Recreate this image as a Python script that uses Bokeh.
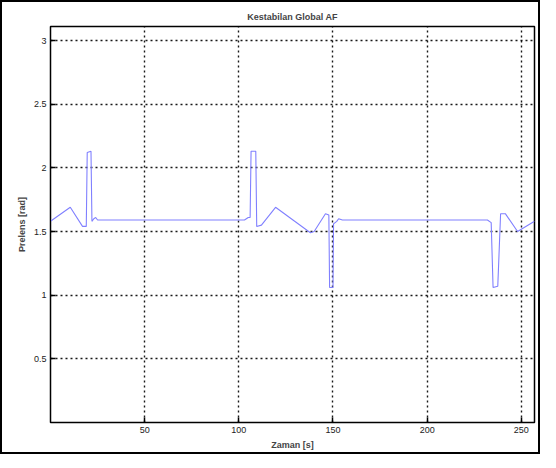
from bokeh.plotting import figure
from bokeh.models import Range1d, FixedTicker
from bokeh.embed import file_html
from bokeh.resources import INLINE

# data
time_s = [0, 10.5, 17, 19, 19.5, 21.5, 22, 23, 24, 25,
          103, 105, 106, 106.5, 109, 109.5, 112, 119.5, 138, 140,
          146, 147.8, 148.2, 150, 150.3, 152, 153, 155,
          232, 234, 235, 237.5, 239, 241.5, 248, 257]
freq_rad = [1.58, 1.69, 1.54, 1.54, 2.12, 2.13, 1.58, 1.60, 1.61, 1.59,
            1.59, 1.61, 1.61, 2.13, 2.13, 1.54, 1.55, 1.69, 1.49, 1.50,
            1.64, 1.63, 1.06, 1.06, 1.56, 1.58, 1.60, 1.59,
            1.59, 1.57, 1.06, 1.07, 1.64, 1.64, 1.50, 1.58]

x_ticks = [50, 100, 150, 200, 250]
x_tick_labels = ["50", "100", "150", "200", "250"]
y_ticks = [0.5, 1, 1.5, 2, 2.5, 3]
y_tick_labels = ["0.5", "1", "1.5", "2", "2.5", "3"]

FONT = "Liberation Sans"

p = figure(width=540, height=454, output_backend="svg", toolbar_location=None,
           x_range=Range1d(0, 257), y_range=Range1d(0, 3.11),
           title="Kestabilan Global AF",
           min_border_left=48, min_border_right=8, min_border_top=24, min_border_bottom=34,
           styles={"border": "2px solid black"})

p.title.align = "center"
p.title.text_font = FONT
p.title.text_font_size = "9px"
p.title.text_font_style = "bold"
p.title.offset = 0

p.line(time_s, freq_rad, line_color="#8080ff", line_width=1.1)

p.outline_line_color = "black"
p.outline_line_width = 1.5

p.xaxis.ticker = FixedTicker(ticks=x_ticks)
p.xaxis.major_label_overrides = dict(zip(x_ticks, x_tick_labels))
p.xaxis.axis_label = "Zaman [s]"
p.yaxis.ticker = FixedTicker(ticks=y_ticks)
p.yaxis.major_label_overrides = dict(zip(y_ticks, y_tick_labels))
p.yaxis.axis_label = "Prelens [rad]"

for ax in p.axis:
    ax.major_tick_in = 5
    ax.major_tick_out = 0
    ax.major_tick_line_width = 1.5
    ax.minor_tick_line_color = None
    ax.axis_line_color = "black"
    ax.major_tick_line_color = "black"
    ax.major_label_text_font = FONT
    ax.major_label_text_font_size = "9px"
    ax.major_label_text_color = "#222222"
    ax.axis_label_text_font = FONT
    ax.axis_label_text_font_size = "9px"
    ax.axis_label_text_font_style = "bold"
    ax.axis_label_standoff = 4
    ax.major_label_standoff = 4

for g in (p.xgrid, p.ygrid):
    g.grid_line_color = "black"
    g.grid_line_dash = "2 3"
    g.grid_line_width = 1.4
    g.grid_line_alpha = 0.9

open("out.html", "w").write(file_html(p, INLINE))
